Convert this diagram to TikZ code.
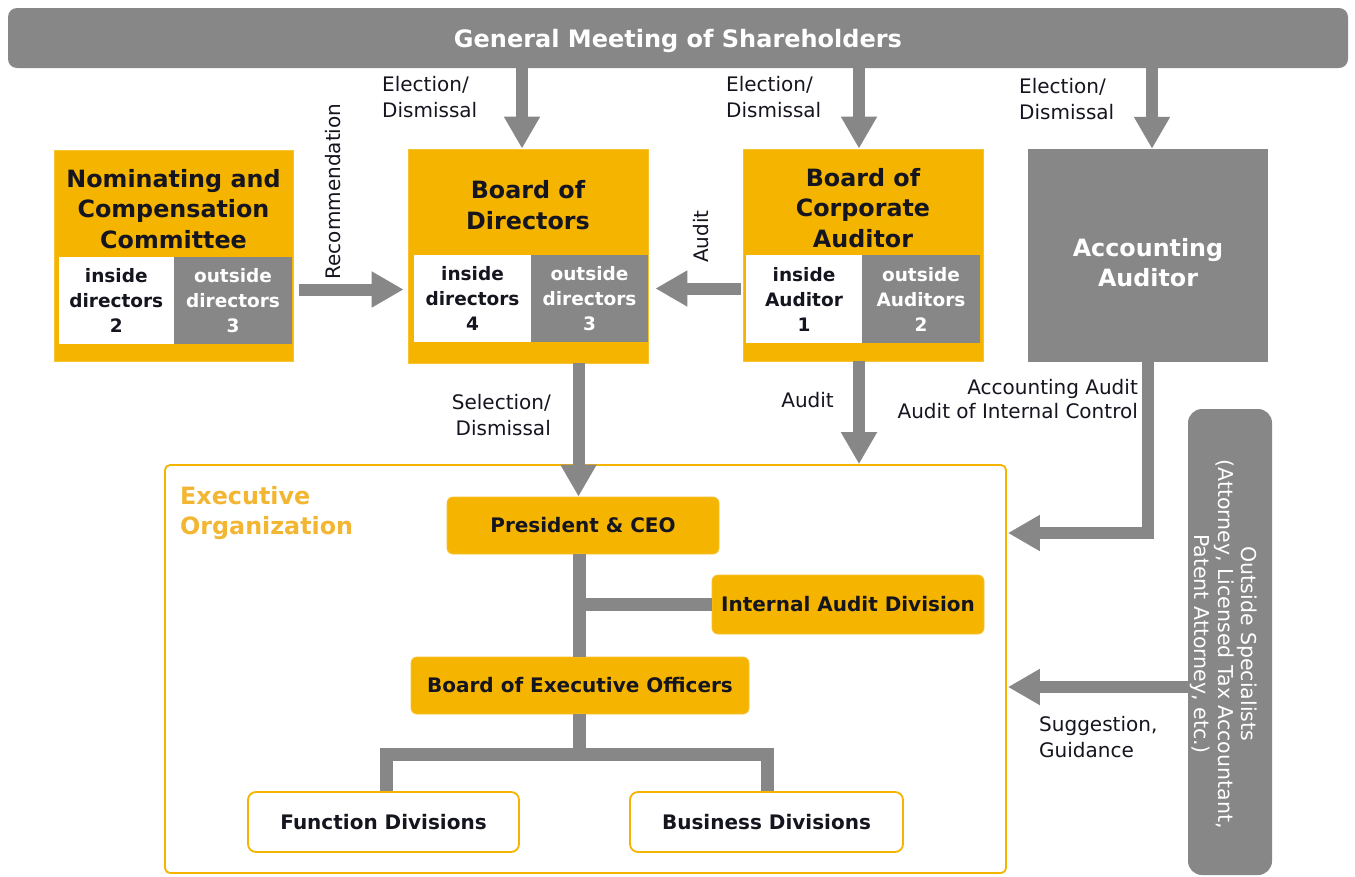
\documentclass[tikz,border=0pt]{standalone}
\usepackage{fontspec}
\setmainfont{DejaVu Sans}
\usetikzlibrary{arrows.meta,calc}
\definecolor{gr}{HTML}{878787}
\definecolor{og}{HTML}{F5B400}
\definecolor{ogl}{HTML}{F2B632}
\definecolor{txt}{HTML}{15151F}
\newcommand\myTitleFont{\bfseries\fontsize{23.8}{30.5}\selectfont}
\newcommand\myCellFont{\bfseries\fontsize{18.5}{25}\selectfont}
\newcommand\myLblFont{\fontsize{20}{26}\selectfont}
\newcommand\myExFont{\bfseries\fontsize{20}{24}\selectfont}
\tikzset{
  obox/.style={fill=og, draw=og!80, line width=0.8pt, inner sep=0pt},
  gbox/.style={fill=gr, inner sep=0pt},
  ttl/.style={font=\myTitleFont, text=txt, align=center, inner sep=0pt},
  wcell/.style={fill=white, inner sep=0pt, text=txt, font=\myCellFont, align=center},
  gcell/.style={fill=gr, inner sep=0pt, text=white, font=\myCellFont, align=center},
  lbl/.style={font=\myLblFont, text=txt, inner sep=0pt},
  ebox/.style={fill=og, draw=og!80, line width=0.8pt, rounded corners=6pt, inner sep=0pt, font=\myExFont, text=txt},
  wbox/.style={fill=white, draw=og, line width=1.8pt, rounded corners=8pt, inner sep=0pt, font=\myExFont, text=txt},
  bigarrow/.style={draw=gr, line width=12pt, -{Triangle[length=32pt,width=34pt]}},
  conn/.style={draw=gr, line width=13pt}
}
\begin{document}
\begin{tikzpicture}[x=1pt,y=-1pt]
\useasboundingbox[fill=white] (0,0) rectangle (1355,876);

% top bar
\node[gbox, rounded corners=9pt, minimum width=1340pt, minimum height=60pt] (gms) at (678,38) {};
\node[text=white, font=\bfseries\fontsize{24}{28}\selectfont, inner sep=0pt] (gmst) at (678,41) {General Meeting of Shareholders};

% labels under top bar
\node[lbl, anchor=west, align=left] (el1) at (382,97) {Election/\\Dismissal};
\node[lbl, anchor=west, align=left] (el2) at (726,97) {Election/\\Dismissal};
\node[lbl, anchor=west, align=left] (el3) at (1019,99) {Election/\\Dismissal};

% Nominating and Compensation Committee
\node[obox, minimum width=239pt, minimum height=211pt] (nom) at (173.5,255.5) {};
\node[ttl] (nomt) at (173.5,209) {Nominating and\\Compensation\\Committee};
\node[wcell, minimum width=115.5pt, minimum height=87pt] (nomi) at (116.3,300.5) {inside\\directors\\2};
\node[gcell, minimum width=118pt, minimum height=87pt] (nomo) at (233,300.5) {outside\\directors\\3};

% Board of Directors
\node[obox, minimum width=240pt, minimum height=214pt] (bod) at (528,256) {};
\node[ttl] (bodt) at (528,205) {Board of\\Directors};
\node[wcell, minimum width=117pt, minimum height=87pt] (bodi) at (472.5,298.5) {inside\\directors\\4};
\node[gcell, minimum width=117pt, minimum height=87pt] (bodo) at (589.5,298.5) {outside\\directors\\3};

% Board of Corporate Auditor
\node[obox, minimum width=240pt, minimum height=212pt] (bca) at (863,255) {};
\node[ttl] (bcat) at (863,208) {Board of\\Corporate\\Auditor};
\node[wcell, minimum width=116pt, minimum height=88pt] (bcai) at (804,299) {inside\\Auditor\\1};
\node[gcell, minimum width=118pt, minimum height=88pt] (bcao) at (921,299) {outside\\Auditors\\2};

% Accounting Auditor
\node[gbox, minimum width=240pt, minimum height=213pt] (aa) at (1148,255.5) {};
\node[ttl, text=white] (aat) at (1148,262.5) {Accounting\\Auditor};

% Executive Organization
\node[draw=og, line width=1.8pt, rounded corners=5pt, fill=white, minimum width=841pt, minimum height=408pt, inner sep=0pt] (exec) at (585.5,669) {};
\node[font=\myTitleFont, text=ogl, align=left, anchor=west, inner sep=0pt] (exect) at (180,513) {Executive\\Organization};

\node[ebox, minimum width=272pt, minimum height=57pt] (ceo) at (583,525.5) {President \& CEO};
\node[ebox, minimum width=272pt, minimum height=59pt] (iad) at (848,604.5) {Internal Audit Division};
\node[ebox, minimum width=338pt, minimum height=57pt] (beo) at (580,685.5) {Board of Executive Officers};
\node[wbox, minimum width=271pt, minimum height=60pt] (fd) at (383.5,822) {Function Divisions};
\node[wbox, minimum width=273pt, minimum height=60pt] (bd) at (766.5,822) {Business Divisions};

% Outside Specialists
\node[gbox, rounded corners=14pt, minimum width=84pt, minimum height=466pt] (os) at (1230,642) {};
\node[font=\fontsize{20.5}{23.5}\selectfont, text=white, rotate=-90, align=center, inner sep=0pt] (ost) at (1224,644) {Outside Specialists\\(Attorney, Licensed Tax Accountant,\\Patent Attorney, etc.)};

% other labels
\node[lbl, rotate=90] (rec) at (333,191.5) {Recommendation};
\node[lbl, rotate=90] (aud1) at (701,236.5) {Audit};
\node[lbl, anchor=east, align=right] (sel) at (551,415) {Selection/\\Dismissal};
\node[lbl, anchor=east] (aud2) at (834,400) {Audit};
\node[font=\fontsize{20}{24}\selectfont, text=txt, inner sep=0pt, anchor=east, align=right] (acc) at (1138,399) {Accounting Audit\\Audit of Internal Control};
\node[lbl, anchor=west, align=left] (sug) at (1039,737) {Suggestion,\\Guidance};

% helper coordinates
\coordinate (b1) at ($(bod.north)+(-6,0)$);
\coordinate (b2) at ($(bca.north)+(-4,0)$);
\coordinate (b3) at ($(aa.north)+(4,0)$);
\coordinate (b5) at ($(ceo.north)+(-4.5,0)$);
\coordinate (b6) at ($(bca.south)+(-4,0)$);
\coordinate (c1) at ($(ceo.south)+(-4,0)$);
\coordinate (fdt) at ($(fd.north)+(2.5,0)$);
\coordinate (bdt) at ($(bd.north)+(0.5,0)$);
\coordinate (hb) at ($(beo.south)+(-1,40.5)$);

% connectors inside executive organization
\draw[conn] (c1) -- (c1 |- beo.north);
\draw[conn] (c1 |- iad.west) -- (iad.west);
\draw[conn] (beo.south -| c1) -- (c1 |- hb);
\draw[conn] (fdt) |- (hb) -| (bdt);

% arrows
\draw[bigarrow] (gms.south -| b1) -- (b1);
\draw[bigarrow] (gms.south -| b2) -- (b2);
\draw[bigarrow] (gms.south -| b3) -- (b3);
\draw[bigarrow] ($(nom.east)+(6,34)$) -- ($(bod.west)+(-4,33.5)$);
\draw[bigarrow] ($(bca.west)+(-2,33.5)$) -- ($(bod.east)+(7,32.5)$);
\draw[bigarrow] (bod.south -| b5) -- (b5);
\draw[bigarrow] (b6) -- (b6 |- exec.north);
\draw[bigarrow] (aa.south) |- ($(exec.east)+(1,-136)$);
\draw[bigarrow] ($(os.west)+(0,45)$) -- ($(exec.east)+(1,18)$);
\end{tikzpicture}
\end{document}
